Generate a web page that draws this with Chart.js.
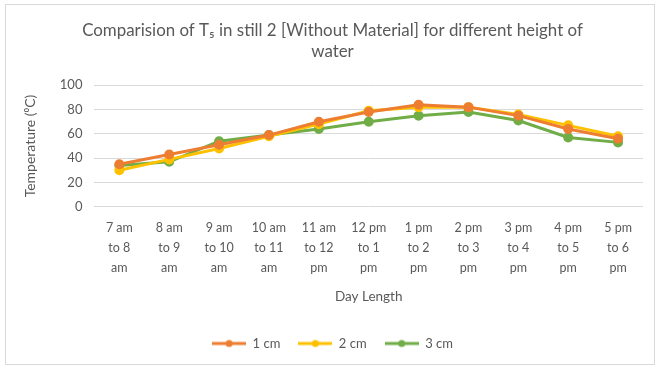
<!DOCTYPE html>
<html>
<head>
<meta charset="utf-8">
<script src="https://cdn.jsdelivr.net/npm/chart.js@4"></script>
<style>
  html, body { margin: 0; padding: 0; background: #fff; }
  #wrap { position: absolute; left: 5px; top: 4px; width: 650px; height: 361px; border: 1px solid #d9d9d9; box-sizing: border-box; }
  #frame { position: absolute; left: 0; top: 0; width: 660px; height: 374px; }
</style>
</head>
<body>
<div id="wrap"></div>
<div id="frame"><canvas id="c" width="660" height="374"></canvas></div>
<script>
const categories = [
  ["7 am", "to 8", "am"], ["8 am", "to 9", "am"], ["9 am", "to 10", "am"],
  ["10 am", "to 11", "am"], ["11 am", "to 12", "pm"], ["12 pm", "to 1", "pm"],
  ["1 pm", "to 2", "pm"], ["2 pm", "to 3", "pm"], ["3 pm", "to 4", "pm"],
  ["4 pm", "to 5", "pm"], ["5 pm", "to 6", "pm"]
];
const seriesNames = ["1 cm", "2 cm", "3 cm"];
const temp1cm = [35, 43, 51, 59, 70, 78, 84, 82, 75, 64, 56];
const temp2cm = [30, 39, 48, 58, 68, 79, 82, 82, 76, 67, 58];
const temp3cm = [34, 37, 54, 59, 64, 70, 75, 78, 71, 57, 53];
const yTicks = [0, 20, 40, 60, 80, 100];
const colors = ["#ED7D31", "#FFC000", "#70AD47"];

const FONT = "Lato, 'Liberation Sans', sans-serif";
const TEXT = "#595959";
const SWATCH_W = 34;

// small line-with-marker swatch for each legend entry
function swatch(color) {
  const cv = document.createElement("canvas");
  cv.width = SWATCH_W; cv.height = 10;
  const g = cv.getContext("2d");
  g.strokeStyle = color; g.lineWidth = 3;
  g.beginPath(); g.moveTo(0, 5); g.lineTo(SWATCH_W, 5); g.stroke();
  g.fillStyle = color;
  g.beginPath(); g.arc(SWATCH_W / 2, 5, 3.5, 0, Math.PI * 2); g.fill();
  return cv;
}

const values = [temp1cm, temp2cm, temp3cm];
const datasets = seriesNames.map((name, i) => ({
  label: name,
  data: values[i],
  borderColor: colors[i],
  backgroundColor: colors[i],
  borderWidth: 3,
  pointRadius: 3.5,
  pointHoverRadius: 3.5,
  pointStyle: "circle",
  tension: 0
}));

new Chart(document.getElementById("c"), {
  type: "line",
  data: { labels: categories, datasets },
  options: {
    responsive: false,
    animation: false,
    devicePixelRatio: 1,
    layout: { padding: { left: 22, right: 17, top: 12, bottom: 14 } },
    plugins: {
      title: {
        display: true,
        text: ["Comparision of T\u2085 in still 2 [Without Material] for different height of", "water"],
        color: TEXT,
        font: { family: FONT, size: 16.9, weight: "normal", lineHeight: 1.25 },
        padding: { top: 8, bottom: 23 }
      },
      legend: {
        position: "bottom",
        labels: {
          color: TEXT,
          font: { family: FONT, size: 13 },
          usePointStyle: true,
          pointStyleWidth: SWATCH_W,
          boxHeight: 12,
          padding: 18,
          generateLabels(chart) {
            return chart.data.datasets.map((d, i) => ({
              text: d.label,
              fillStyle: d.borderColor,
              strokeStyle: d.borderColor,
              lineWidth: 0,
              pointStyle: swatch(d.borderColor),
              datasetIndex: i,
              fontColor: TEXT
            }));
          }
        }
      },
      tooltip: { enabled: false }
    },
    scales: {
      x: {
        offset: true,
        grid: { display: false },
        border: { display: false },
        ticks: {
          color: TEXT,
          font: { family: FONT, size: 12.5, lineHeight: 1.6 },
          padding: 3,
          maxRotation: 0,
          autoSkip: false
        },
        title: {
          display: true,
          text: "Day Length",
          color: TEXT,
          font: { family: FONT, size: 13.5 },
          padding: { top: 8, bottom: 14 }
        }
      },
      y: {
        min: 0,
        max: 100,
        afterBuildTicks(axis) { axis.ticks = yTicks.map(v => ({ value: v })); },
        grid: { color: "#d9d9d9", drawTicks: false, lineWidth: 1 },
        border: { display: false },
        ticks: {
          color: TEXT,
          font: { family: FONT, size: 13 },
          padding: 12
        },
        title: {
          display: true,
          text: "Temperature (\u2070C)",
          color: TEXT,
          font: { family: FONT, size: 14 },
          padding: { top: 0, bottom: 9 }
        }
      }
    }
  }
});
</script>
</body>
</html>
